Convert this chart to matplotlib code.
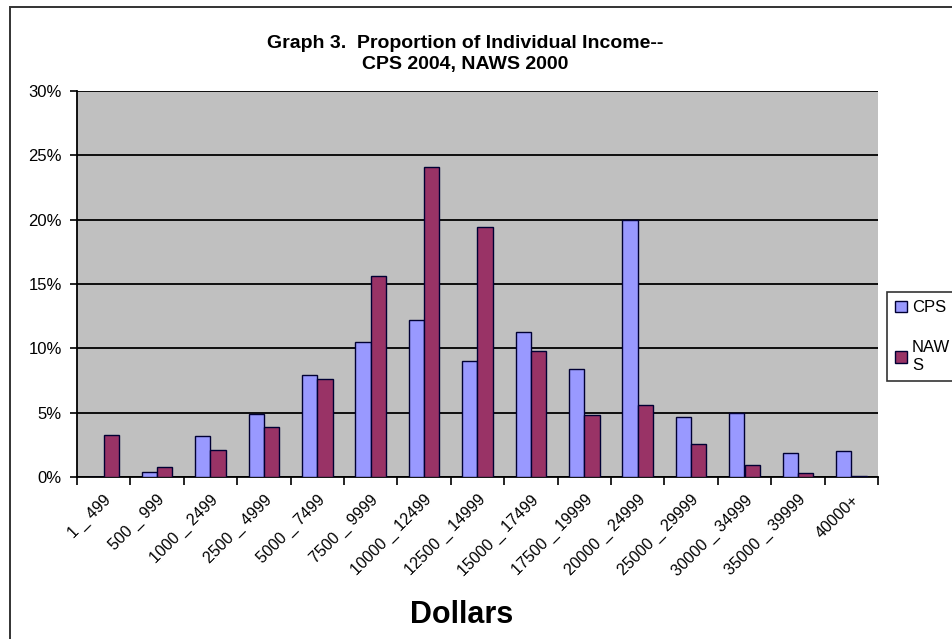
import numpy as np
import matplotlib
matplotlib.use("Agg")
import matplotlib.pyplot as plt
from matplotlib.patches import Rectangle

plt.rcParams['font.family'] = ['Liberation Sans', 'DejaVu Sans']

categories = ['1 _ 499', '500 _ 999', '1000 _ 2499', '2500 _ 4999', '5000 _ 7499',
              '7500 _ 9999', '10000 _ 12499', '12500 _ 14999', '15000 _ 17499',
              '17500 _ 19999', '20000 _ 24999', '25000 _ 29999', '30000 _ 34999',
              '35000 _ 39999', '40000+']
cps = [0.0, 0.4, 3.2, 4.9, 7.9, 10.5, 12.2, 9.0, 11.3, 8.4, 20.0, 4.7, 5.0, 1.9, 2.0]
naws = [3.3, 0.8, 2.1, 3.9, 7.6, 15.6, 24.1, 19.4, 9.8, 4.8, 5.6, 2.6, 0.9, 0.3, 0.1]

W, H = 953, 639
fig = plt.figure(figsize=(W / 100, H / 100), dpi=100)
fig.patch.set_facecolor('white')

# outer chart frame (cut off on right and bottom like the screenshot)
fig.patches.append(Rectangle((10 / W, -0.05), 1.1, 1 - 7 / H + 0.05, transform=fig.transFigure,
                             fill=False, edgecolor='#333333', linewidth=1.4))

ax = fig.add_axes([77 / W, 1 - 477 / H, (878 - 77) / W, (477 - 91) / H])
ax.set_facecolor('#C0C0C0')

x = np.arange(len(categories))
bw = 0.286
ax.bar(x - bw / 2, cps, width=bw, color='#9999FF', edgecolor='#000033', linewidth=1, label='CPS', zorder=3)
ax.bar(x + bw / 2, naws, width=bw, color='#993366', edgecolor='#000033', linewidth=1, label='NAW\nS', zorder=3)

ax.set_xlim(-0.5, len(categories) - 0.5)
ax.set_ylim(0, 30)
ax.set_yticks(np.arange(0, 31, 5))
ax.set_yticklabels([f'{v}%' for v in range(0, 31, 5)], fontsize=12)
ax.yaxis.grid(True, color='black', linewidth=1.3, zorder=1)
ax.set_axisbelow(True)

# ticks between categories, labels at centers
ax.set_xticks(np.arange(-0.5, len(categories), 1))
ax.set_xticklabels([])
ax.set_xticks(x, minor=True)
ax.set_xticklabels(categories, minor=True, rotation=45, ha='right', va='top',
                   rotation_mode='anchor', fontsize=11.5)
ax.tick_params(axis='x', which='minor', length=0, pad=11)
ax.tick_params(axis='x', which='major', length=6, width=1.2, direction='out')
ax.tick_params(axis='y', length=5, width=1.2, direction='out', pad=6)

for side in ['top', 'right']:
    ax.spines[side].set_visible(False)
ax.spines['left'].set_linewidth(1.3)
ax.spines['bottom'].set_linewidth(1.3)

cx = 465 / W
fig.text(cx, 1 - 43 / H, 'Graph 3.  Proportion of Individual Income--',
         ha='center', va='center', fontsize=14, fontweight='bold')
fig.text(cx, 1 - 65 / H, 'CPS 2004, NAWS 2000',
         ha='center', va='center', fontsize=14, fontweight='bold')

fig.text(462 / W, 1 - 615 / H, 'Dollars', ha='center', va='center',
         fontsize=22, fontweight='bold')

leg = ax.legend(loc='upper left', bbox_to_anchor=(887 / W, 1 - 292 / H), bbox_transform=fig.transFigure,
                fontsize=12, frameon=True, fancybox=False, edgecolor='black',
                handlelength=0.7, handleheight=0.7, handletextpad=0.3, labelspacing=1.5,
                borderpad=0.5, borderaxespad=0)
leg.get_frame().set_linewidth(1.2)

fig.savefig('out.png', dpi=100)
